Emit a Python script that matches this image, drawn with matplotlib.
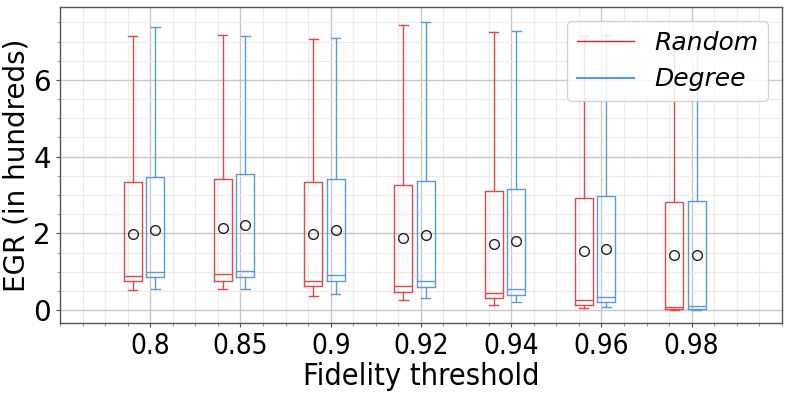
import matplotlib
matplotlib.use("Agg")
import matplotlib.pyplot as plt
from matplotlib.lines import Line2D
from matplotlib.ticker import MultipleLocator

thresholds = ['0.8', '0.85', '0.9', '0.92', '0.94', '0.96', '0.98']

random_whislo = [0.52, 0.55, 0.37, 0.27, 0.13, 0.05, 0.00]
random_q1 = [0.765, 0.76, 0.63, 0.47, 0.305, 0.14, 0.02]
random_med = [0.895, 0.93, 0.77, 0.63, 0.435, 0.25, 0.07]
random_q3 = [3.34, 3.42, 3.33, 3.25, 3.11, 2.93, 2.83]
random_whishi = [7.15, 7.17, 7.08, 7.43, 7.25, 7.15, 6.80]
random_mean = [1.99, 2.13, 1.99, 1.88, 1.71, 1.55, 1.43]

degree_whislo = [0.55, 0.55, 0.42, 0.31, 0.22, 0.08, 0.00]
degree_q1 = [0.85, 0.85, 0.75, 0.59, 0.38, 0.20, 0.04]
degree_med = [0.98, 1.01, 0.905, 0.75, 0.54, 0.33, 0.10]
degree_q3 = [3.47, 3.54, 3.41, 3.36, 3.17, 2.98, 2.85]
degree_whishi = [7.37, 7.14, 7.10, 7.52, 7.27, 7.17, 6.85]
degree_mean = [2.09, 2.23, 2.10, 1.97, 1.79, 1.59, 1.44]


def make_stats(lo, q1, med, q3, hi, mean):
    return [dict(whislo=a, q1=b, med=c, q3=d, whishi=e, mean=f, fliers=[])
            for a, b, c, d, e, f in zip(lo, q1, med, q3, hi, mean)]


RED = '#e5474c'
BLUE = '#5b9bd5'

fig = plt.figure(figsize=(7.89, 3.95), dpi=100)
ax = fig.add_axes([0.076, 0.182, 0.915, 0.800])

idx = list(range(len(thresholds)))


def draw(stats, pos, color):
    lp = dict(color=color, linewidth=1.0)
    ax.bxp(stats, positions=pos, widths=0.2, showmeans=True, showfliers=False,
           boxprops=lp, whiskerprops=lp, capprops=lp, medianprops=lp,
           meanprops=dict(marker='o', markerfacecolor='none', markeredgecolor='#222222',
                          markersize=7, markeredgewidth=1.0),
           manage_ticks=False)


draw(make_stats(random_whislo, random_q1, random_med, random_q3, random_whishi, random_mean),
     [i - 0.195 for i in idx], RED)
draw(make_stats(degree_whislo, degree_q1, degree_med, degree_q3, degree_whishi, degree_mean),
     [i + 0.055 for i in idx], BLUE)

ax.set_xlim(-1, 7)
ax.set_ylim(-0.34, 7.9)
ax.set_xticks(idx)
ax.set_xticklabels(thresholds, fontstretch='condensed')
ax.xaxis.set_minor_locator(MultipleLocator(0.25))
ax.yaxis.set_major_locator(MultipleLocator(2))
ax.yaxis.set_minor_locator(MultipleLocator(0.5))
ax.tick_params(axis='both', which='major', labelsize=20, length=3, color='#555555')
ax.tick_params(axis='both', which='minor', length=2, color='#888888')

ax.grid(True, which='major', color='#c8c8c8', linewidth=1.0)
ax.grid(True, which='minor', color='#ececec', linewidth=0.8)
ax.set_axisbelow(True)
for s in ax.spines.values():
    s.set_color('#555555')
    s.set_linewidth(1.0)

ax.set_xlabel('Fidelity threshold', fontsize=22, labelpad=1, fontstretch='condensed')
ax.set_ylabel('EGR (in hundreds)', fontsize=20, labelpad=2)

handles = [Line2D([], [], color='#d62728', linewidth=1.0),
           Line2D([], [], color=BLUE, linewidth=1.5)]
leg = ax.legend(handles, ['Random', 'Degree'], loc='upper right',
                prop=dict(size=18, style='italic'), framealpha=0.85,
                handlelength=2.3, borderaxespad=0.55)

fig.savefig('out.png', dpi=100)
